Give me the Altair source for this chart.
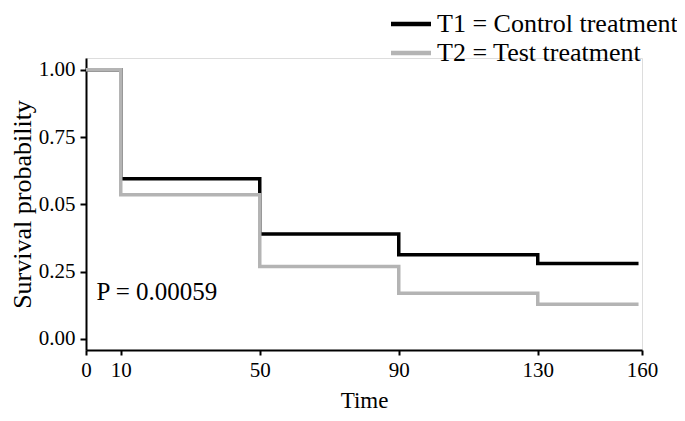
import altair as alt
import pandas as pd

# Kaplan-Meier step curves (time, survival probability)
t1_time = [0, 10, 50, 90, 130, 159]
t1_surv = [1.00, 0.595, 0.390, 0.313, 0.280, 0.280]
t2_time = [0, 10, 50, 90, 130, 159]
t2_surv = [1.00, 0.536, 0.269, 0.170, 0.129, 0.129]

series_names = ["T1 = Control treatment", "T2 = Test treatment"]
series_colors = ["#000000", "#b4b4b4"]

x_ticks = [0, 10, 50, 90, 130, 160]
y_ticks = [0.0, 0.25, 0.5, 0.75, 1.0]

p_label = "P = 0.00059"
p_x = 3
p_y = 0.175

rows = []
for t, s in zip(t1_time, t1_surv):
    rows.append({"time": t, "surv": s, "group": series_names[0], "order": 0})
for t, s in zip(t2_time, t2_surv):
    rows.append({"time": t, "surv": s, "group": series_names[1], "order": 1})
df = pd.DataFrame(rows)

FONT = "Liberation Serif"

x_scale = alt.Scale(domain=[0, 160], nice=False, zero=False)
y_scale = alt.Scale(domain=[-0.041, 1.044], nice=False, zero=False)

lines = alt.Chart(df).mark_line(interpolate="step-after", strokeWidth=3.5).encode(
    x=alt.X("time:Q", scale=x_scale,
            axis=alt.Axis(title="Time", values=x_ticks, grid=False,
                          labelFontSize=21, titleFontSize=23,
                          labelPadding=4, titlePadding=9,
                          tickSize=5, tickWidth=2, domainWidth=2,
                          domainColor="black", tickColor="black",
                          labelColor="black", titleColor="black",
                          labelFlush=False)),
    y=alt.Y("surv:Q", scale=y_scale,
            axis=alt.Axis(title="Survival probability", values=y_ticks, grid=False,
                          labelExpr="datum.value == 0.5 ? '0.05' : format(datum.value, '.2f')",
                          labelFontSize=21, titleFontSize=26,
                          labelPadding=5, titlePadding=3,
                          tickSize=6, tickWidth=2, domainWidth=2,
                          domainColor="black", tickColor="black",
                          labelColor="black", titleColor="black")),
    color=alt.Color("group:N",
                    scale=alt.Scale(domain=series_names, range=series_colors),
                    legend=alt.Legend(title=None, orient="none", legendX=312, legendY=-47,
                                      symbolType="M-2,0H2", symbolSize=400,
                                      symbolStrokeWidth=4.5, labelFontSize=26,
                                      labelColor="black", labelOffset=13,
                                      labelLimit=0, rowPadding=3, padding=0,
                                      labelFont=FONT)),
    order=alt.Order("order:Q"),
    detail="group:N",
)

ptext = alt.Chart(pd.DataFrame({"x": [p_x], "y": [p_y], "label": [p_label]})).mark_text(
    align="left", baseline="middle", fontSize=25, font=FONT, color="black"
).encode(x=alt.X("x:Q", scale=x_scale), y=alt.Y("y:Q", scale=y_scale), text="label:N")

chart = alt.layer(lines, ptext).properties(
    width=556, height=292,
    autosize=alt.AutoSizeParams(type="none"),
    padding={"left": 78, "top": 50, "right": 35, "bottom": 63},
).configure_view(stroke=None).configure(font=FONT).configure_axis(
    labelFont=FONT, titleFont=FONT, titleFontWeight="normal"
)

chart.save("out.html", embed_options={"renderer": "svg", "actions": False})
